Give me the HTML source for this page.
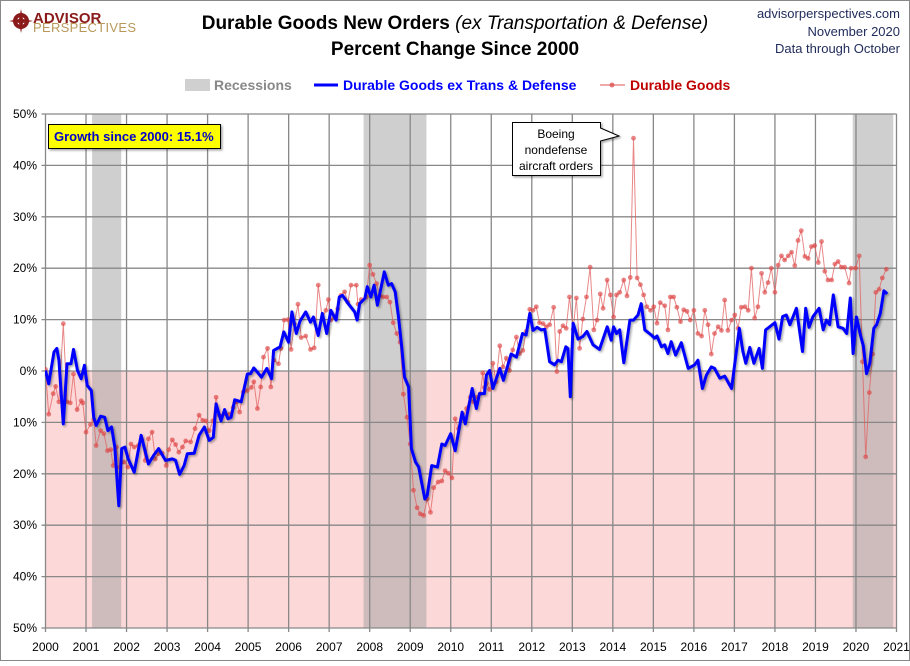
<!DOCTYPE html>
<html><head><meta charset="utf-8"><style>
html,body{margin:0;padding:0;background:#fff;}
body{width:910px;height:661px;overflow:hidden;font-family:"Liberation Sans",sans-serif;}
</style></head><body>
<svg id="chart" width="910" height="661" viewBox="0 0 910 661" xmlns="http://www.w3.org/2000/svg" font-family="Liberation Sans, sans-serif">
<defs>
<filter id="sh" x="-5%" y="-5%" width="110%" height="120%"><feDropShadow dx="1.5" dy="1.5" stdDeviation="1" flood-color="#000" flood-opacity="0.35"/></filter>
<clipPath id="plotclip"><rect x="45" y="114" width="852" height="514"/></clipPath>
</defs>
<rect x="0.5" y="0.5" width="909" height="660" fill="#fff" stroke="#888"/>
<g>
<circle cx="21" cy="21" r="8" fill="#8b1a1a"/>
<circle cx="21" cy="21" r="4" fill="#fff"/>
<path d="M21 9 L23 19 L33 21 L23 23 L21 33 L19 23 L9 21 L19 19Z" fill="#8b1a1a"/>
<text x="33" y="23" font-size="15" font-weight="bold" fill="#8b1a1a">ADVISOR</text>
<text x="33" y="32" font-size="13" fill="#b8995a" letter-spacing="0.3">PERSPECTIVES</text>
</g>
<text x="455" y="29" text-anchor="middle" font-size="19"><tspan font-weight="bold">Durable Goods New Orders </tspan><tspan font-style="italic">(ex Transportation &amp; Defense)</tspan></text>
<text x="455" y="55" text-anchor="middle" font-size="19" font-weight="bold">Percent Change Since 2000</text>
<g font-size="13" fill="#1f2a5a" text-anchor="end">
<text x="900" y="18">advisorperspectives.com</text>
<text x="900" y="36">November 2020</text>
<text x="900" y="53">Data through October</text>
</g>
<g>
<g><rect x="185" y="79" width="25" height="12" fill="#d0d0d0"/><text x="214" y="90" font-size="14" font-weight="bold" fill="#888">Recessions</text></g>
<g><line x1="314" y1="85" x2="338" y2="85" stroke="#0000ff" stroke-width="3"/><text x="343" y="90" font-size="14" font-weight="bold" fill="#0000ff">Durable Goods ex Trans &amp; Defense</text></g>
<g><line x1="600" y1="85" x2="625" y2="85" stroke="#d55" stroke-width="1"/><circle cx="612" cy="85" r="2.5" fill="#d55" opacity="0.8"/><text x="630" y="90" font-size="14" font-weight="bold" fill="#c00000">Durable Goods</text></g>
</g>
<g id="plot"></g>
</svg>
<script>
const recStart=[2001.15,2007.85,2019.92];
const recEnd=[2001.87,2009.4,2020.92];
const yTicks=[50,40,30,20,10,0,-10,-20,-30,-40,-50];
const xTicks=[2000,2001,2002,2003,2004,2005,2006,2007,2008,2009,2010,2011,2012,2013,2014,2015,2016,2017,2018,2019,2020,2021];
const blueDates=[2000.00,2000.08,2000.21,2000.28,2000.33,2000.44,2000.53,2000.63,2000.69,2000.79,2000.88,2000.96,2001.03,2001.13,2001.19,2001.25,2001.36,2001.46,2001.54,2001.63,2001.71,2001.81,2001.88,2001.96,2002.04,2002.19,2002.36,2002.54,2002.67,2002.79,2002.96,2003.13,2003.21,2003.31,2003.42,2003.50,2003.67,2003.79,2003.92,2004.04,2004.14,2004.21,2004.33,2004.42,2004.50,2004.58,2004.67,2004.83,2004.98,2005.06,2005.14,2005.33,2005.46,2005.58,2005.63,2005.79,2005.88,2006.00,2006.08,2006.19,2006.28,2006.42,2006.54,2006.61,2006.73,2006.83,2006.94,2007.04,2007.17,2007.25,2007.33,2007.50,2007.63,2007.69,2007.75,2007.88,2007.94,2008.03,2008.11,2008.19,2008.36,2008.46,2008.54,2008.63,2008.71,2008.79,2008.86,2008.96,2009.03,2009.13,2009.21,2009.36,2009.42,2009.53,2009.67,2009.78,2009.86,2010.00,2010.11,2010.28,2010.36,2010.53,2010.63,2010.71,2010.83,2010.88,2010.96,2011.04,2011.21,2011.30,2011.49,2011.62,2011.77,2011.86,2011.95,2012.03,2012.13,2012.23,2012.32,2012.44,2012.56,2012.65,2012.73,2012.84,2012.89,2012.95,2013.02,2013.14,2013.26,2013.36,2013.51,2013.67,2013.86,2013.96,2014.02,2014.09,2014.17,2014.27,2014.42,2014.51,2014.62,2014.70,2014.79,2014.95,2015.03,2015.09,2015.20,2015.28,2015.36,2015.44,2015.55,2015.69,2015.86,2016.02,2016.10,2016.21,2016.31,2016.43,2016.51,2016.64,2016.76,2016.93,2017.12,2017.21,2017.28,2017.38,2017.48,2017.61,2017.69,2017.77,2018.00,2018.10,2018.19,2018.28,2018.37,2018.53,2018.68,2018.76,2018.84,2018.94,2019.09,2019.19,2019.27,2019.35,2019.44,2019.56,2019.68,2019.77,2019.86,2019.93,2020.01,2020.11,2020.18,2020.26,2020.34,2020.44,2020.51,2020.60,2020.69,2020.77];
const blueVals=[0.1,-2.5,3.7,4.4,2.1,-10.3,1.4,1.4,4.2,0.1,-1.5,1.1,-2.8,-3.8,-9.0,-10.6,-8.8,-9.0,-11.6,-10.9,-14.8,-26.2,-15.1,-14.8,-17.1,-19.7,-12.5,-18.1,-16.4,-15.1,-17.4,-17.1,-17.4,-20.1,-18.4,-16.1,-16.0,-12.5,-10.9,-13.5,-12.9,-6.4,-9.7,-7.5,-9.3,-9.0,-5.6,-6.0,-0.6,-0.5,0.6,-1.2,0.5,-1.5,4.0,4.7,7.6,5.6,11.5,7.3,9.7,11.5,9.5,10.5,6.9,11.2,7.3,11.8,9.9,14.4,14.7,12.8,11.5,9.9,13.1,14.1,16.4,14.4,16.7,12.8,19.3,16.7,17.0,15.4,10.5,4.7,-1.2,-3.1,-15.1,-17.7,-18.7,-24.9,-24.2,-18.4,-18.7,-14.2,-14.5,-12.2,-15.5,-8.0,-10.3,-3.4,-7.3,-4.4,-4.4,-0.8,0.1,-3.4,0.5,-1.8,3.3,2.7,7.3,7.0,11.2,7.9,8.5,8.0,8.1,1.8,1.2,2.1,1.8,4.7,4.4,-5.0,9.3,6.2,6.7,7.7,5.1,4.2,8.6,6.0,8.6,7.3,8.0,1.6,9.9,9.9,10.9,13.1,8.0,7.0,6.4,6.8,4.7,5.1,3.4,5.7,3.1,5.5,0.5,1.2,2.1,-3.4,-0.8,0.8,0.5,-1.4,-1.0,-3.4,8.3,3.8,1.5,4.6,1.5,4.4,0.5,8.0,9.4,6.2,10.6,10.9,9.0,12.2,3.8,12.2,8.5,10.6,12.2,8.0,9.9,9.0,14.8,8.6,8.3,7.3,14.2,3.4,10.5,7.0,4.9,-0.5,1.5,8.3,9.0,11.2,15.6,15.0];
const redDates=[2000.00,2000.08,2000.19,2000.25,2000.33,2000.44,2000.53,2000.61,2000.69,2000.78,2000.88,2000.92,2001.00,2001.11,2001.19,2001.25,2001.36,2001.44,2001.53,2001.61,2001.67,2001.75,2001.83,2001.94,2002.03,2002.11,2002.19,2002.29,2002.38,2002.46,2002.54,2002.63,2002.71,2002.79,2002.88,2002.98,2003.04,2003.13,2003.21,2003.29,2003.38,2003.46,2003.58,2003.69,2003.79,2003.88,2003.96,2004.04,2004.13,2004.21,2004.29,2004.42,2004.54,2004.63,2004.71,2004.79,2004.88,2004.98,2005.08,2005.14,2005.23,2005.31,2005.38,2005.48,2005.56,2005.64,2005.75,2005.81,2005.89,2005.98,2006.06,2006.14,2006.23,2006.31,2006.42,2006.54,2006.63,2006.73,2006.83,2006.92,2006.98,2007.04,2007.13,2007.21,2007.29,2007.38,2007.46,2007.54,2007.67,2007.71,2007.79,2007.92,2008.00,2008.08,2008.17,2008.25,2008.33,2008.42,2008.50,2008.58,2008.67,2008.75,2008.83,2008.92,2009.00,2009.08,2009.17,2009.25,2009.33,2009.42,2009.50,2009.58,2009.69,2009.78,2009.86,2009.94,2010.03,2010.11,2010.19,2010.29,2010.39,2010.48,2010.56,2010.64,2010.73,2010.79,2010.83,2010.88,2010.96,2011.04,2011.12,2011.21,2011.29,2011.37,2011.45,2011.53,2011.62,2011.70,2011.78,2011.86,2011.95,2012.03,2012.11,2012.19,2012.28,2012.36,2012.44,2012.54,2012.62,2012.69,2012.77,2012.85,2012.93,2013.02,2013.10,2013.18,2013.26,2013.35,2013.44,2013.53,2013.61,2013.69,2013.76,2013.86,2013.94,2014.02,2014.09,2014.17,2014.27,2014.35,2014.43,2014.51,2014.60,2014.68,2014.76,2014.84,2014.93,2015.01,2015.09,2015.17,2015.28,2015.36,2015.42,2015.50,2015.58,2015.67,2015.75,2015.83,2015.91,2016.00,2016.10,2016.19,2016.27,2016.35,2016.43,2016.51,2016.60,2016.68,2016.76,2016.84,2016.93,2017.01,2017.09,2017.17,2017.26,2017.34,2017.42,2017.50,2017.58,2017.67,2017.75,2017.83,2017.91,2018.00,2018.08,2018.16,2018.24,2018.33,2018.41,2018.49,2018.57,2018.65,2018.74,2018.82,2018.90,2018.98,2019.07,2019.15,2019.23,2019.31,2019.40,2019.48,2019.56,2019.64,2019.72,2019.83,2019.88,2019.99,2020.08,2020.16,2020.24,2020.33,2020.41,2020.49,2020.57,2020.65,2020.75];
const redVals=[0.3,-8.4,-4.4,-3.0,-6.0,9.2,-6.0,-6.2,-0.6,-7.5,-5.8,-6.2,-11.9,-10.4,-9.5,-14.5,-11.6,-12.2,-15.5,-15.3,-18.4,-14.8,-18.7,-17.7,-18.7,-14.2,-14.8,-14.5,-13.4,-17.4,-13.2,-11.9,-17.1,-16.1,-16.0,-18.4,-15.3,-13.4,-14.3,-15.8,-14.8,-13.6,-13.8,-11.2,-8.6,-9.6,-9.7,-11.6,-9.7,-5.1,-8.6,-8.3,-8.4,-7.1,-6.0,-8.0,-4.1,-3.8,-3.2,-2.1,-7.3,-3.1,2.7,4.4,-3.1,2.1,1.4,4.4,9.9,10.0,4.2,9.2,13.0,6.5,6.8,4.2,4.5,16.7,10.2,11.8,13.9,9.9,10.5,12.1,14.7,15.4,13.4,16.7,16.7,13.0,13.9,14.4,20.6,18.8,17.0,14.7,14.4,14.4,13.4,9.4,7.3,5.6,-4.5,-9.0,-14.2,-23.2,-26.6,-27.8,-28.1,-24.9,-27.5,-22.7,-21.6,-21.4,-19.4,-19.9,-20.8,-9.3,-11.2,-9.3,-7.3,-5.1,-6.0,-5.1,-4.4,-0.4,-3.2,-2.4,-3.6,1.5,-2.1,4.9,0.8,2.5,0.1,4.1,6.6,3.4,4.0,7.7,12.0,11.8,12.5,9.4,9.2,8.6,9.0,12.4,-0.1,7.7,8.8,8.3,14.4,8.1,14.2,4.4,10.1,14.4,20.2,8.0,9.9,15.0,12.2,17.7,14.8,10.5,14.8,15.3,17.7,14.6,18.2,45.3,18.1,16.8,14.8,12.5,11.8,12.5,9.3,13.3,12.7,8.0,14.4,14.4,12.4,9.6,11.9,11.6,9.9,11.8,7.3,6.8,11.8,9.0,3.3,7.3,8.6,7.9,13.8,7.9,9.9,10.9,8.3,12.4,12.5,11.8,20.0,10.3,12.5,19.0,15.3,17.2,20.0,15.3,20.6,22.4,21.6,22.4,23.1,20.5,25.4,27.3,22.3,21.9,24.2,24.4,21.1,25.2,19.4,17.7,17.7,20.8,21.3,20.2,20.2,17.1,20.0,20.0,22.4,1.8,-16.7,-4.2,3.3,15.3,15.9,18.1,19.8];

const X0=45.5,X1=896.5,Y0=114,Y1=628;
function xs(yr){return X0+(yr-2000)*(X1-X0)/21;}
function ys(v){return Y0+(50-v)*(Y1-Y0)/100;}
const NS='http://www.w3.org/2000/svg';
const plot=document.getElementById('plot');
function mk(tag,attrs,parent){const e=document.createElementNS(NS,tag);for(const k in attrs)e.setAttribute(k,attrs[k]);(parent||plot).appendChild(e);return e;}

const neg=mk('rect',{x:X0,y:ys(0),width:X1-X0,height:ys(-50)-ys(0),fill:'#fdd8d8'});


for(let i=0;i<recStart.length;i++){
  const r=mk('rect',{x:xs(recStart[i]),y:Y0,width:xs(recEnd[i])-xs(recStart[i]),height:Y1-Y0,fill:'#a0a0a0',opacity:0.5});
  
  
}
const grid=mk('g',{stroke:'#888','stroke-width':1.3});


yTicks.forEach(t=>{
  mk('line',{x1:X0-4,x2:X1,y1:ys(t),y2:ys(t)},grid);
  const tx=mk('text',{x:37,y:ys(t)+4,'text-anchor':'end','font-size':12,fill:'#000'});
  tx.textContent=Math.abs(t)+'%';
  
  
});
xTicks.forEach(t=>{
  mk('line',{x1:xs(t),x2:xs(t),y1:Y0,y2:Y1+4},grid);
  const tx=mk('text',{x:xs(t),y:651,'text-anchor':'middle','font-size':12,fill:'#000'});
  tx.textContent=t;
  
  
});
const series=mk('g',{'clip-path':'url(#plotclip)'});


let rp=redDates.map((d,i)=>xs(d).toFixed(1)+','+ys(redVals[i]).toFixed(1)).join(' ');
const rl=mk('polyline',{points:rp,fill:'none',stroke:'#e06060','stroke-width':1,opacity:0.75},series);


redDates.forEach((d,i)=>{
  const c=mk('circle',{cx:xs(d),cy:ys(redVals[i]),r:2.4,fill:'#d44',opacity:0.65},series);
  
  
});
let bp=blueDates.map((d,i)=>xs(d).toFixed(1)+','+ys(blueVals[i]).toFixed(1)).join(' ');
const bl=mk('polyline',{points:bp,fill:'none',stroke:'#0000ff','stroke-width':3,'stroke-linejoin':'round',filter:'url(#sh)'},series);



const gb=mk('g',{});


mk('rect',{x:48.5,y:124.5,width:172,height:24,fill:'#ffff00',stroke:'#000',filter:'url(#sh)'},gb);
const gt=mk('text',{x:54,y:141,'font-size':13,'font-weight':'bold',fill:'#0000cc'},gb);
gt.textContent='Growth since 2000:  15.1%';
const cb=mk('g',{});


mk('path',{d:'M512.5 122.5 H600.5 V128 L619 136 L600.5 141 V175.5 H512.5 Z',fill:'#fff',stroke:'#000',filter:'url(#sh)'},cb);
['Boeing','nondefense','aircraft orders'].forEach((s,i)=>{
  const t=mk('text',{x:556,y:138+i*16,'text-anchor':'middle','font-size':12,fill:'#000'},cb);
  t.textContent=s;
});
</script>
</body></html>
